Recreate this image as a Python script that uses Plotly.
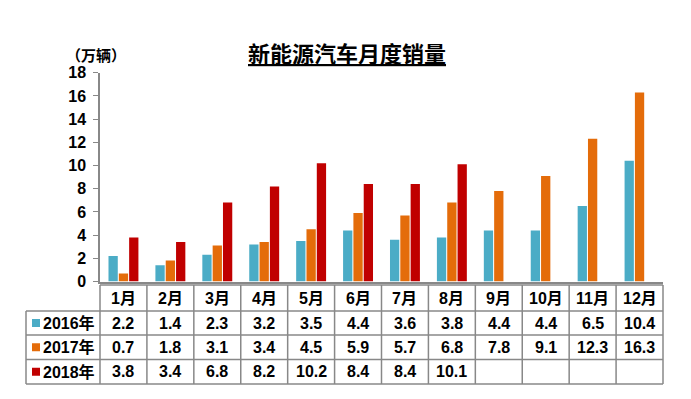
import plotly.graph_objects as go

months = ["1月", "2月", "3月", "4月", "5月", "6月", "7月", "8月", "9月", "10月", "11月", "12月"]
series_names = ["2016年", "2017年", "2018年"]
s2016 = [2.2, 1.4, 2.3, 3.2, 3.5, 4.4, 3.6, 3.8, 4.4, 4.4, 6.5, 10.4]
s2017 = [0.7, 1.8, 3.1, 3.4, 4.5, 5.9, 5.7, 6.8, 7.8, 9.1, 12.3, 16.3]
s2018 = [3.8, 3.4, 6.8, 8.2, 10.2, 8.4, 8.4, 10.1, None, None, None, None]
y_ticks = [0, 2, 4, 6, 8, 10, 12, 14, 16, 18]
title_text = "新能源汽车月度销量"
unit_text = "（万辆）"

colors = ["#4BACC6", "#E46C0A", "#C00000"]
series = [s2016, s2017, s2018]

OFF = 8  # page body margin
W, H = 691 - 2 * OFF, 399 - 2 * OFF
FONT = "Arial, Liberation Sans, Noto Sans CJK SC, sans-serif"


def px(x):
    return (x - OFF) / W


def py(y):
    return 1 - (y - OFF) / H


x0, x1 = 100, 663
y_top, y_bot = 72.7, 281.5

fig = go.Figure()
for name, vals, c in zip(series_names, series, colors):
    fig.add_trace(go.Bar(x=months, y=vals, name=name, marker=dict(color=c, line=dict(width=0)),
                         showlegend=False))

fig.update_layout(
    template="none",
    width=W, height=H,
    margin=dict(l=0, r=0, t=0, b=0, autoexpand=False),
    paper_bgcolor="white", plot_bgcolor="white",
    barmode="group", bargap=0.34, bargroupgap=0.1,
    xaxis=dict(domain=[px(x0), px(x1)], showticklabels=False, showline=True, linecolor="#888888",
               linewidth=1.5, ticks="", showgrid=False, zeroline=False, automargin=False, fixedrange=True),
    yaxis=dict(domain=[py(y_bot), py(y_top)], range=[0, 18], tickvals=y_ticks, showline=True,
               linecolor="#888888", linewidth=1.5, ticks="outside", ticklen=5, tickcolor="#888888",
               showgrid=False, zeroline=False, automargin=False,
               tickfont=dict(family=FONT, size=16, color="black", weight="bold"), ticklabelstandoff=4),
)

shapes = []
lc = dict(color="#888888", width=1.5)
cw = (x1 - x0) / len(months)
t_top, rows_y = 285, [311, 335, 359.5, 384]
left_x = 26
# horizontal lines
shapes.append(dict(type="line", xref="paper", yref="paper", x0=px(x0), x1=px(x1), y0=py(t_top), y1=py(t_top), line=lc))
for yy in rows_y:
    shapes.append(dict(type="line", xref="paper", yref="paper", x0=px(left_x), x1=px(x1), y0=py(yy), y1=py(yy), line=lc))
# vertical lines
for k in range(len(months) + 1):
    xx = x0 + k * cw
    shapes.append(dict(type="line", xref="paper", yref="paper", x0=px(xx), x1=px(xx), y0=py(t_top), y1=py(rows_y[-1]), line=lc))
shapes.append(dict(type="line", xref="paper", yref="paper", x0=px(left_x), x1=px(left_x), y0=py(rows_y[0]), y1=py(rows_y[-1]), line=lc))

ann = []
tf = dict(family=FONT, size=16, color="black", weight="bold")
for i, m in enumerate(months):
    ann.append(dict(x=px(x0 + (i + 0.5) * cw), y=py((t_top + rows_y[0]) / 2), xref="paper", yref="paper",
                    text=m, showarrow=False, font=tf, xanchor="center", yanchor="middle"))
for r, (name, vals, c) in enumerate(zip(series_names, series, colors)):
    ya, yb = rows_y[r], rows_y[r + 1]
    yc = (ya + yb) / 2
    shapes.append(dict(type="rect", xref="paper", yref="paper", x0=px(32), x1=px(40), y0=py(yc - 4), y1=py(yc + 4),
                       fillcolor=c, line=dict(width=0)))
    ann.append(dict(x=px(97), y=py(yc), xref="paper", yref="paper", text=name, showarrow=False, font=tf,
                    xanchor="right", yanchor="middle"))
    for i, v in enumerate(vals):
        if v is None:
            continue
        ann.append(dict(x=px(x0 + (i + 0.5) * cw), y=py(yc), xref="paper", yref="paper", text=f"{v:.1f}",
                        showarrow=False, font=tf, xanchor="center", yanchor="middle"))

ann.append(dict(x=px(347), y=py(54), xref="paper", yref="paper", text=f"<u>{title_text}</u>", showarrow=False,
                font=dict(family=FONT, size=22, color="black", weight="bold"), xanchor="center", yanchor="middle"))
ann.append(dict(x=px(64), y=py(56), xref="paper", yref="paper", text=unit_text, showarrow=False,
                font=dict(family=FONT, size=15, color="black", weight="bold"), xanchor="left", yanchor="middle"))

fig.update_layout(shapes=shapes, annotations=ann)
fig.write_html("out.html")
